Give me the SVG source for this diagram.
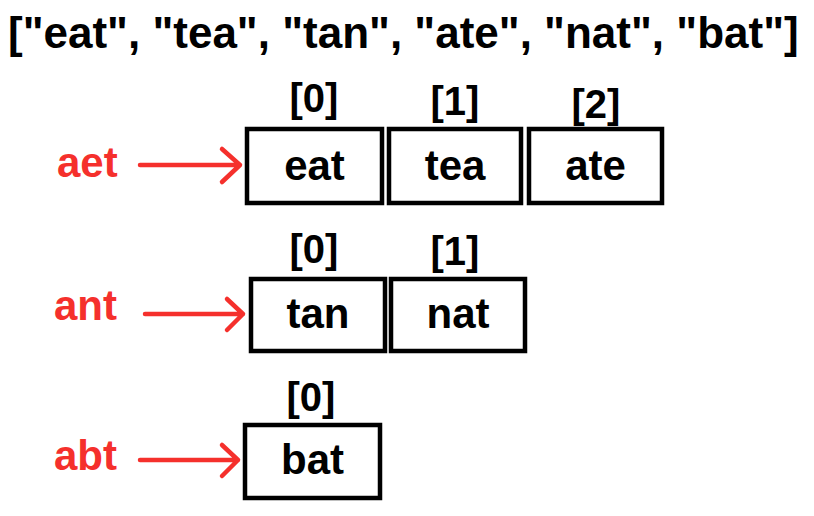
<svg xmlns="http://www.w3.org/2000/svg" width="814" height="516" viewBox="0 0 814 516">
<style>
text{font-family:"Liberation Sans",Arial,sans-serif;font-weight:bold}
.title{font-size:44px;fill:#000}
.idx{font-size:40px;fill:#000;text-anchor:middle}
.val{font-size:42px;fill:#000;text-anchor:middle}
.key{font-size:42px;fill:#f5302c}
.box{fill:#fff;stroke:#000;stroke-width:4.5}
.arr{fill:none;stroke:#f5302c;stroke-width:4.5;stroke-linecap:round;stroke-linejoin:round}
</style>
<rect width="814" height="516" fill="#fff"/>
<text class="title" x="8" y="48">["eat", "tea", "tan", "ate", "nat", "bat"]</text>

<g id="key-aet"><text class="key" x="57" y="177">aet</text></g>
<g id="key-ant"><text class="key" x="54" y="320">ant</text></g>
<g id="key-abt"><text class="key" x="54" y="470">abt</text></g>

<g id="row1-0"><rect class="box" x="247" y="129" width="135" height="74"/><text class="idx" x="314" y="112">[0]</text><text class="val" x="314.5" y="180">eat</text></g>
<g id="row1-1"><rect class="box" x="389" y="129" width="132" height="74"/><text class="idx" x="455" y="115">[1]</text><text class="val" x="455" y="180">tea</text></g>
<g id="row1-2"><rect class="box" x="529" y="129" width="133" height="74"/><text class="idx" x="596" y="118">[2]</text><text class="val" x="595.5" y="180">ate</text></g>

<g id="row2-0"><rect class="box" x="251" y="279" width="134" height="72"/><text class="idx" x="314" y="263">[0]</text><text class="val" x="318" y="328">tan</text></g>
<g id="row2-1"><rect class="box" x="391" y="279" width="134" height="72"/><text class="idx" x="455" y="265">[1]</text><text class="val" x="458" y="328">nat</text></g>

<g id="row3-0"><rect class="box" x="245" y="425" width="135" height="73"/><text class="idx" x="311" y="411">[0]</text><text class="val" x="312.5" y="474">bat</text></g>

<g id="connectors">
<path class="arr" d="M140 165H240M222 149L240 165L222 182"/>
<path class="arr" d="M145 314H243M227 299L243 314L227 330"/>
<path class="arr" d="M140 460H238M222 445L238 460L222 476"/>
</g>
</svg>
